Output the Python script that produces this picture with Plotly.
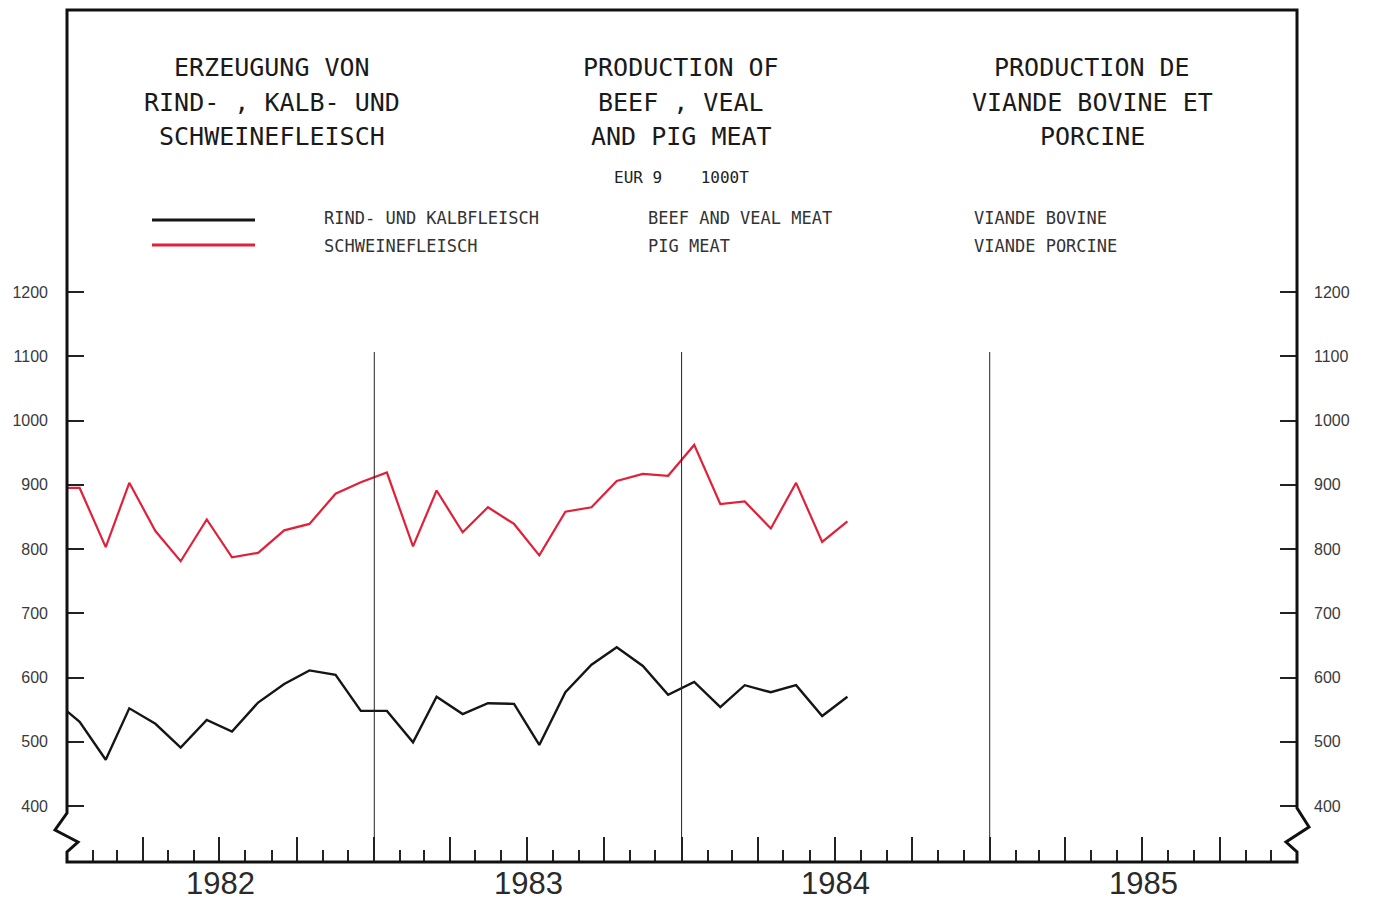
import plotly.graph_objects as go

# ---------------- data ----------------
months = ["1981-12", "1982-01", "1982-02", "1982-03", "1982-04", "1982-05", "1982-06",
          "1982-07", "1982-08", "1982-09", "1982-10", "1982-11", "1982-12",
          "1983-01", "1983-02", "1983-03", "1983-04", "1983-05", "1983-06",
          "1983-07", "1983-08", "1983-09", "1983-10", "1983-11", "1983-12",
          "1984-01", "1984-02", "1984-03", "1984-04", "1984-05", "1984-06", "1984-07"]

beef_veal = [565, 531, 472, 552, 528, 491, 534, 516, 561, 590, 611, 604, 548,
             548, 499, 570, 543, 560, 559, 495, 577, 620, 647, 618, 573,
             593, 554, 588, 577, 588, 540, 570]

pig_meat = [895, 895, 803, 903, 828, 781, 846, 787, 794, 829, 839, 886, 904,
            919, 804, 891, 826, 865, 839, 790, 858, 865, 906, 917, 914,
            962, 870, 874, 832, 903, 811, 843]

year_labels = ["1982", "1983", "1984", "1985"]
year_bounds = ["1983-01-01", "1984-01-01", "1985-01-01"]
y_ticks = [400, 500, 600, 700, 800, 900, 1000, 1100, 1200]

title_de = ["ERZEUGUNG VON", "RIND- , KALB- UND", "SCHWEINEFLEISCH"]
title_en = ["PRODUCTION OF", "BEEF , VEAL", "AND PIG MEAT"]
title_fr = ["PRODUCTION DE", "VIANDE BOVINE ET", "PORCINE"]
unit_text = "EUR 9    1000T"
legend_de = ["RIND- UND KALBFLEISCH", "SCHWEINEFLEISCH"]
legend_en = ["BEEF AND VEAL MEAT", "PIG MEAT"]
legend_fr = ["VIANDE BOVINE", "VIANDE PORCINE"]

# ---------------- layout geometry ----------------
OFF = 8                      # page body margin of the html page
W, H = 1373 - 2 * OFF, 908 - 2 * OFF
L, R, T, B = 67 - OFF, 1297 - OFF, 10 - OFF, 862 - OFF


def px(x):
    return (x - OFF - L) / (R - L)


def py(y):
    return (B - (y - OFF)) / (B - T)


x_dates = [m + "-16" for m in months]

fig = go.Figure()
fig.add_trace(go.Scatter(x=x_dates, y=beef_veal, mode="lines",
                         line=dict(color="#151515", width=2.4), yaxis="y",
                         showlegend=False, hoverinfo="skip"))
fig.add_trace(go.Scatter(x=x_dates, y=pig_meat, mode="lines",
                         line=dict(color="#e1203a", width=2.2), yaxis="y2",
                         showlegend=False, hoverinfo="skip"))

tickfont = dict(family="Liberation Sans", size=16, color="#3a3a3a")
# value range of the plot area, so that 400 -> y 806 and 1200 -> y 292 (page px)
scale = (806 - 292) / 800.0
yrange = [400 - (B + OFF - 806) / scale, 400 + (806 - (T + OFF)) / scale]

fig.update_layout(
    width=W, height=H,
    margin=dict(l=L, r=W - R, t=T, b=H - B, pad=0),
    paper_bgcolor="white", plot_bgcolor="white",
    xaxis=dict(type="date", range=["1982-01-01", "1986-01-01"],
               showgrid=False, zeroline=False, showline=False,
               ticks="inside", tick0="1982-01-01", dtick="M3",
               ticklen=25, tickwidth=1.5, tickcolor="#222222",
               showticklabels=False,
               minor=dict(ticks="inside", dtick="M1", ticklen=12,
                          tickwidth=1.5, tickcolor="#222222", showgrid=False)),
    yaxis=dict(range=yrange, tickvals=y_ticks, showgrid=False, zeroline=False,
               showline=False, ticks="inside", ticklen=17, tickwidth=1.5,
               tickcolor="#222222", tickfont=tickfont, ticklabelstandoff=18),
    yaxis2=dict(range=yrange, matches="y", overlaying="y", side="right",
                tickvals=y_ticks, showgrid=False, zeroline=False,
                showline=False, ticks="inside", ticklen=17, tickwidth=1.5,
                tickcolor="#222222", tickfont=tickfont, ticklabelstandoff=16),
)

shapes = []
# frame with axis breaks (page pixel positions)
pts = [(67, 10), (67, 813), (55, 830), (78, 842), (67, 852), (67, 862),
       (1297, 862), (1297, 852), (1286, 842), (1309, 827), (1297, 808), (1297, 10)]
path = "M " + " L ".join(f"{px(x):.5f},{py(y):.5f}" for x, y in pts) + " Z"
shapes.append(dict(type="path", xref="paper", yref="paper", path=path,
                   line=dict(color="#111111", width=3)))
# year separator lines
for d in year_bounds:
    shapes.append(dict(type="line", xref="x", yref="paper", x0=d, x1=d,
                       y0=0, y1=py(352), line=dict(color="#222222", width=1)))
# legend samples
shapes.append(dict(type="line", xref="paper", yref="paper", x0=px(152), x1=px(255),
                   y0=py(220), y1=py(220), line=dict(color="#151515", width=3)))
shapes.append(dict(type="line", xref="paper", yref="paper", x0=px(152), x1=px(255),
                   y0=py(245), y1=py(245), line=dict(color="#e1203a", width=3)))
fig.update_layout(shapes=shapes)

ann = []
title_font = dict(family="DejaVu Sans Mono", size=25, color="#1a1a1a")
for texts, cx in ((title_de, 272), (title_en, 681), (title_fr, 1092)):
    for i, t in enumerate(texts):
        ann.append(dict(text=t, x=px(cx), y=py(68 + 34 * i), xref="paper", yref="paper",
                        xanchor="center", yanchor="middle", showarrow=False,
                        font=title_font))
ann.append(dict(text=unit_text.replace(" ", "&nbsp;"), x=px(681), y=py(178),
                xref="paper", yref="paper", xanchor="center", yanchor="middle",
                showarrow=False,
                font=dict(family="DejaVu Sans Mono", size=16, color="#222222")))
leg_font = dict(family="DejaVu Sans Mono", size=17, color="#333333")
for texts, lx in ((legend_de, 322), (legend_en, 646), (legend_fr, 972)):
    for i, t in enumerate(texts):
        ann.append(dict(text=t, x=px(lx), y=py(218 + 28 * i), xref="paper", yref="paper",
                        xanchor="left", yanchor="middle", showarrow=False,
                        font=leg_font))
# year labels centred under each year (4 equal year spans across the axis)
for i, yl in enumerate(year_labels):
    ann.append(dict(text=yl, x=(i + 0.5) / len(year_labels), y=py(883),
                    xref="paper", yref="paper",
                    xanchor="center", yanchor="middle", showarrow=False,
                    borderpad=0,
                    font=dict(family="Liberation Sans", size=31, color="#2a2a2a")))
fig.update_layout(annotations=ann)

fig.write_html("out.html")
